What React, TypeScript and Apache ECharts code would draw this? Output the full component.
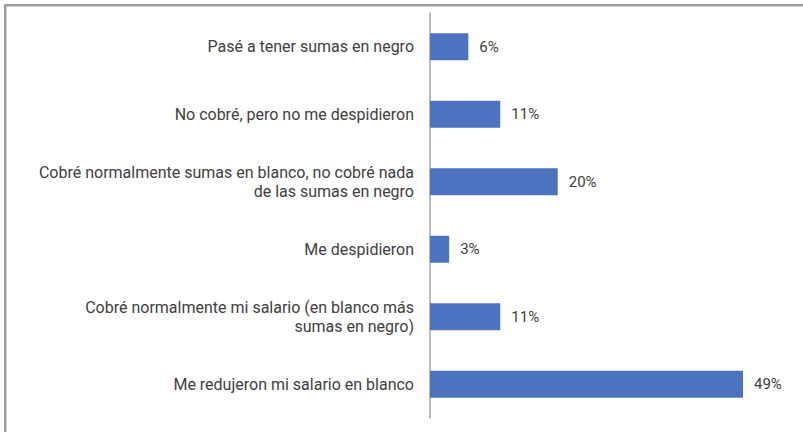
import React, { useEffect, useRef } from "react";
import * as echarts from "echarts";

const categories = [
  "Pasé a tener sumas en negro",
  "No cobré, pero no me despidieron",
  "Cobré normalmente sumas en blanco, no cobré nada\nde las sumas en negro",
  "Me despidieron",
  "Cobré normalmente mi salario (en blanco más\nsumas en negro)",
  "Me redujeron mi salario en blanco",
];
const values = [6, 11, 20, 3, 11, 49];

export default function App() {
  const ref = useRef<HTMLDivElement>(null);
  useEffect(() => {
    document.body.style.margin = "0";
    const chart = echarts.init(ref.current!, null, { renderer: "svg" });
    chart.setOption({
      animation: false,
      backgroundColor: "#ffffff",
      textStyle: { fontFamily: "Roboto" },
      graphic: [
        { type: "rect", shape: { x: 4, y: 4, width: 799, height: 2.5 }, style: { fill: "#9e9e9e" }, silent: true },
        { type: "rect", shape: { x: 4, y: 4, width: 2.5, height: 428 }, style: { fill: "#9e9e9e" }, silent: true },
      ],
      grid: { left: 430, top: 13, bottom: 14, width: 319.4, containLabel: false },
      xAxis: { type: "value", min: 0, max: 50, show: false },
      yAxis: {
        type: "category",
        data: categories,
        inverse: true,
        axisLine: { show: true, lineStyle: { color: "#a6a6a6", width: 1.5 } },
        axisTick: { show: false },
        axisLabel: {
          margin: 16,
          fontSize: 16,
          color: "#404040",
          fontFamily: "Roboto",
          lineHeight: 19,
          align: "right",
        },
      },
      series: [
        {
          type: "bar",
          data: values,
          barWidth: 27,
          itemStyle: { color: "#4e73be" },
          label: {
            show: true,
            position: "right",
            distance: 11,
            formatter: "{c}%",
            fontSize: 15,
            color: "#404040",
            fontFamily: "Roboto",
          },
        },
      ],
    });
    return () => chart.dispose();
  }, []);
  return (
    <div
      ref={ref}
      style={{ position: "absolute", left: 0, top: 0, width: 803, height: 432 }}
    />
  );
}
